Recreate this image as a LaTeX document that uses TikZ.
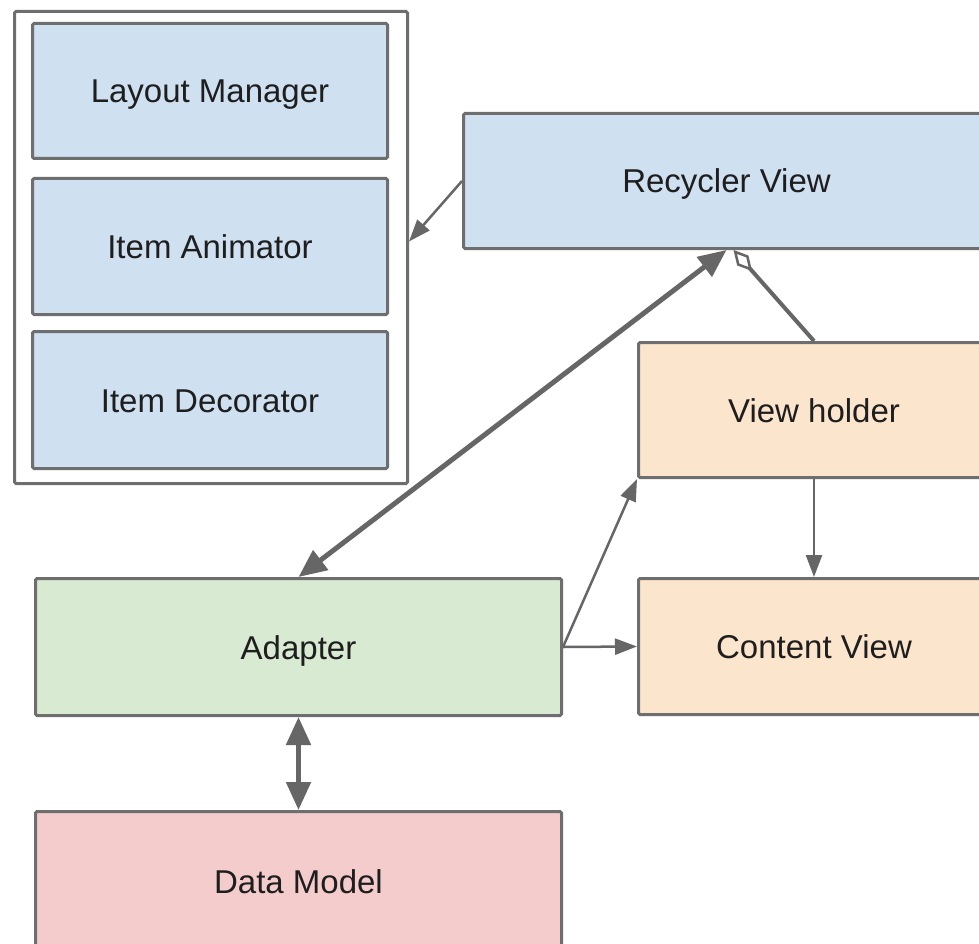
\documentclass[tikz,border=0pt]{standalone}
\usepackage{fontspec}
\setmainfont{Liberation Sans}
\usetikzlibrary{arrows.meta}
\definecolor{bluef}{HTML}{CFE0F1}
\definecolor{greenf}{HTML}{D9EAD3}
\definecolor{orangef}{HTML}{FCE5CD}
\definecolor{pinkf}{HTML}{F4CCCC}
\definecolor{edgec}{HTML}{6E6E6E}
\definecolor{linec}{HTML}{666666}
\definecolor{textc}{HTML}{1E1E1E}
\begin{document}
\begin{tikzpicture}[x=1pt,y=-1pt,
  box/.style={draw=edgec, line width=3pt, rounded corners=1.5pt, anchor=north west,
    inner sep=0pt, font=\fontsize{33}{39}\selectfont, text=textc, text depth=0pt, text height=24pt},
  thinarrow/.style={draw=linec, line width=2.5pt, -{Triangle[length=22pt,width=16pt]}},
  thickarrow/.style={draw=linec, line width=5pt, {Triangle[length=28pt,width=24pt]}-{Triangle[length=28pt,width=24pt]}},
  aggr/.style={draw=linec, line width=4pt, -{Diamond[open,length=28pt,width=15pt,line width=2.5pt]}}]
\useasboundingbox (0,0) rectangle (979,944);
\clip (0,0) rectangle (979,944);
\fill[white] (0,0) rectangle (979,944);
\node[box, fill=white, minimum width=393pt, minimum height=472pt] (cont) at (13,10) {};
\node[box, fill=bluef, minimum width=355pt, minimum height=135pt] (lm) at (31,22) {Layout Manager};
\node[box, fill=bluef, minimum width=355pt, minimum height=136pt] (ia) at (31,177) {Item Animator};
\node[box, fill=bluef, minimum width=355pt, minimum height=137pt] (id) at (31,330) {Item Decorator};
\node[box, fill=bluef, minimum width=526pt, minimum height=135pt] (rv) at (462,112) {Recycler View};
\node[box, fill=orangef, minimum width=351pt, minimum height=135pt] (vh) at (637,341) {View holder};
\node[box, fill=orangef, minimum width=351pt, minimum height=136pt] (cv) at (637,577) {Content View};
\node[box, fill=greenf, minimum width=526pt, minimum height=137pt] (ad) at (34,577) {Adapter};
\node[box, fill=pinkf, minimum width=526pt, minimum height=140pt] (dm) at (34,810) {Data Model};
\draw[thinarrow] (rv.west) -- ([yshift=6pt]cont.east);
\draw[thickarrow] (ad.north) -- (rv.south);
\draw[aggr] (vh.north) -- ([xshift=7pt]rv.south);
\draw[thinarrow] (ad.east) -- (vh.south west);
\draw[thinarrow] (ad.east) -- (cv.west);
\draw[thinarrow] (vh.south) -- (cv.north);
\draw[thickarrow] (ad.south) -- (dm.north);
\end{tikzpicture}
\end{document}
